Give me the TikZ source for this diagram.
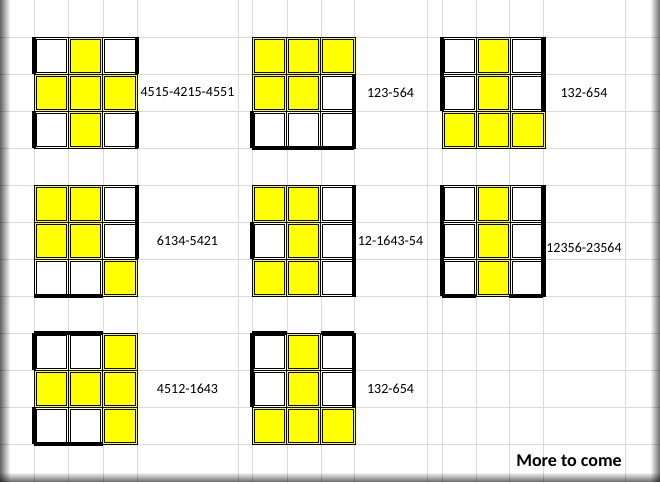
\documentclass[tikz,border=0pt]{standalone}
\usepackage{fontspec}
\setmainfont{Carlito}
\usetikzlibrary{fadings}

\definecolor{Y}{RGB}{255,255,0}
\colorlet{W}{white}
\definecolor{gridgray}{RGB}{218,218,218}

\tikzfading[name=fade right, left color=transparent!0, right color=transparent!100]
\tikzfading[name=fade left, left color=transparent!100, right color=transparent!0]
\tikzfading[name=fade down, top color=transparent!100, bottom color=transparent!0]

% one 3x3 puzzle: #1 left x, #2 top y, #3 the nine cell colours
\newcommand{\puzzle}[3]{%
  \foreach \f [count=\k from 0] in {#3} {
    \pgfmathsetmacro{\cx}{#1+mod(\k,3)*34.33}
    \pgfmathsetmacro{\cy}{#2+floor(\k/3)*37}
    \fill[\f] (\cx,\cy) rectangle ++(34.33,37);
    \draw[cellline] (\cx,\cy) rectangle ++(34.33,37);
    \draw[cellline] (\cx+2,\cy+2) rectangle ++(30.33,33);
  }}

\begin{document}
\begin{tikzpicture}[x=1pt, y=-1pt,
    gridline/.style={gridgray, line width=1pt},
    cellline/.style={black, line width=0.9pt},
    thickedge/.style={black, line width=3.4pt},
    lbl/.style={font=\fontsize{14}{16}\selectfont, inner sep=0pt}]
    \useasboundingbox (0,0) rectangle (660,482);
    \fill[white] (0,0) rectangle (660,482);

    % Draw sheet grid
    \foreach \gx in {34,68,103,137,238,252,287,321,354,427,442,476,509,543,625}
      \draw[gridline] (\gx,0) -- (\gx,482);
    \foreach \gy in {37,74,...,444}
      \draw[gridline] (0,\gy) -- (660,\gy);

    % Draw the puzzles, row by row
    \puzzle{34}{37}{W,Y,W,Y,Y,Y,W,Y,W}
    \puzzle{252}{37}{Y,Y,Y,Y,Y,W,W,W,W}
    \puzzle{442}{37}{W,Y,W,W,Y,W,Y,Y,Y}
    \puzzle{34}{185}{Y,Y,W,Y,Y,W,W,W,Y}
    \puzzle{252}{185}{Y,Y,W,W,Y,W,Y,Y,W}
    \puzzle{442}{185}{W,Y,W,W,Y,W,W,Y,W}
    \puzzle{34}{333}{W,W,Y,Y,Y,Y,W,W,Y}
    \puzzle{252}{333}{W,Y,W,W,Y,W,Y,Y,Y}

    % Thick borders on the white cells
    \draw[thickedge] (34,37) -- (34,74) (34,111) -- (34,148);
    \draw[thickedge] (137,37) -- (137,74) (137,111) -- (137,148);
    \draw[thickedge] (252,111) -- (252,148) (354,74) -- (354,148);
    \draw[thickedge] (252,148) -- (354,148);
    \draw[thickedge] (442,37) -- (442,111) (543,37) -- (543,111);
    \draw[thickedge] (137,185) -- (137,259) (34,296) -- (103,296);
    \draw[thickedge] (252,222) -- (252,259) (354,185) -- (354,296);
    \draw[thickedge] (442,185) -- (442,296) (543,185) -- (543,296);
    \draw[thickedge] (442,296) -- (476,296) (509,296) -- (543,296);
    \draw[thickedge] (34,333) -- (103,333) (34,444) -- (103,444);
    \draw[thickedge] (34,333) -- (34,370) (34,407) -- (34,444);
    \draw[thickedge] (252,333) -- (287,333) (321,333) -- (354,333);
    \draw[thickedge] (252,333) -- (252,407) (354,333) -- (354,407);

    % Labels
    \node[lbl] (l1) at (187.5,92.5) {4515-4215-4551};
    \node[lbl] (l2) at (390.5,92.5) {123-564};
    \node[lbl] (l3) at (584,92.5) {132-654};
    \node[lbl] (l4) at (187.5,240.5) {6134-5421};
    \node[lbl] (l5) at (390.5,240.5) {12-1643-54};
    \node[lbl] (l6) at (584,248) {12356-23564};
    \node[lbl] (l7) at (187.5,388.5) {4512-1643};
    \node[lbl] (l8) at (390.5,388.5) {132-654};
    \node[lbl, font=\fontsize{18}{20}\selectfont\bfseries] (more) at (569,461) {More to come};

    % Shadow round the window
    \fill[black, fill opacity=0.6, path fading=fade right] (0,0) rectangle (10,482);
    \fill[black, fill opacity=0.6, path fading=fade left] (650,0) rectangle (660,482);
    \fill[black, fill opacity=0.6, path fading=fade down] (0,472) rectangle (660,482);
\end{tikzpicture}
\end{document}
